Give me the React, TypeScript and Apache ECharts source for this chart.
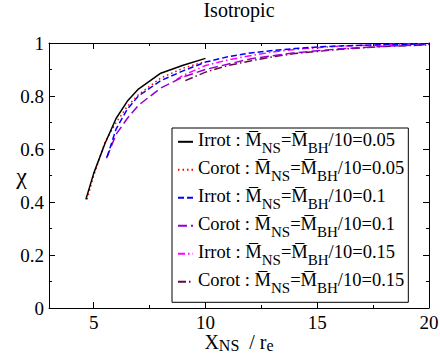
import React, { useEffect, useRef } from "react";
import * as echarts from "echarts";

const FONT = "Liberation Serif";

const seriesNames = ["Irrot 0.05", "Corot 0.05", "Irrot 0.1", "Corot 0.1", "Irrot 0.15", "Corot 0.15"];
const seriesTypes = ["Irrot", "Corot", "Irrot", "Corot", "Irrot", "Corot"];
const seriesMass = ["0.05", "0.05", "0.1", "0.1", "0.15", "0.15"];

const irrot005X = [4.65, 5, 5.5, 6, 6.5, 7, 8, 9, 10];
const irrot005Y = [0.41, 0.508, 0.62, 0.715, 0.78, 0.826, 0.886, 0.916, 0.942];

const corot005X = [4.7, 5, 5.5, 6, 6.5, 7, 8, 9, 10];
const corot005Y = [0.41, 0.5, 0.625, 0.7, 0.76, 0.805, 0.868, 0.905, 0.93];

const irrot01X = [5.6, 6, 6.5, 7, 8, 9, 10, 11, 12, 13, 14, 15, 16, 18, 20];
const irrot01Y = [0.57, 0.675, 0.75, 0.8, 0.858, 0.895, 0.928, 0.948, 0.962, 0.972, 0.979, 0.985, 0.989, 0.994, 0.997];

const corot01X = [5.57, 6, 6.5, 7, 8, 9, 10, 12, 14, 16, 18, 20];
const corot01Y = [0.565, 0.655, 0.715, 0.765, 0.83, 0.872, 0.9, 0.94, 0.963, 0.978, 0.988, 0.994];

const irrot015X = [8.7, 9, 10, 11, 12, 13, 14, 16, 18, 20];
const irrot015Y = [0.862, 0.878, 0.915, 0.936, 0.952, 0.966, 0.976, 0.988, 0.994, 0.998];

const corot015X = [9.1, 10, 11, 12, 13, 14, 16, 18, 20];
const corot015Y = [0.858, 0.89, 0.915, 0.932, 0.948, 0.96, 0.976, 0.987, 0.993];

const xMajorTicks = [5, 10, 15, 20];
const xMinorTicks = [7.5, 12.5, 17.5];

const allX = [irrot005X, corot005X, irrot01X, corot01X, irrot015X, corot015X];
const allY = [irrot005Y, corot005Y, irrot01Y, corot01Y, irrot015Y, corot015Y];

const colors = ["#000000", "#ff0000", "#0000ff", "#9400d3", "#ff00ff", "#670748"];
const dashes: any[] = ["solid", [1.5, 3], [6, 3], [9, 4], [7, 3, 1.5, 3], [8, 3, 1.5, 3]];

export default function App() {
  const ref = useRef<HTMLDivElement>(null);
  useEffect(() => {
    if (!ref.current) return;
    const chart = echarts.init(ref.current, null, { renderer: "svg" });
    const OL = "M\u0305";
    const series = seriesNames.map((n, i) => ({
      name: n,
      type: "line",
      xAxisIndex: 0,
      yAxisIndex: 0,
      showSymbol: false,
      symbol: "none",
      data: allX[i].map((x, j) => [x, allY[i][j]]),
      lineStyle: { color: colors[i], width: 1.5, type: dashes[i] },
      itemStyle: { color: colors[i] },
      z: 10 - i,
    }));
    const mkX = (pos: string, ticks: number[], len: number, showLine: boolean, showLabel: boolean, extra: any = {}) => ({
      type: "value",
      min: 3,
      max: 20,
      position: pos,
      gridIndex: 0,
      axisLine: { show: showLine, onZero: false, lineStyle: { color: "#000", width: 1 } },
      axisTick: { show: true, inside: true, length: len, customValues: ticks, lineStyle: { color: "#000" } },
      axisLabel: showLabel
        ? { show: true, customValues: ticks, fontFamily: FONT, fontSize: 19, lineHeight: 13, color: "#000", margin: 8 }
        : { show: false },
      splitLine: { show: false },
      ...extra,
    });
    const mkY = (pos: string, showLabel: boolean, extra: any = {}) => ({
      type: "value",
      min: 0,
      max: 1,
      interval: 0.2,
      position: pos,
      axisLine: { show: true, onZero: false, lineStyle: { color: "#000", width: 1 } },
      axisTick: { show: true, inside: true, length: 6, lineStyle: { color: "#000" } },
      minorTick: { show: true, splitNumber: 2, length: 3, lineStyle: { color: "#000" } },
      axisLabel: showLabel ? { show: true, fontFamily: FONT, fontSize: 19, color: "#000", margin: 5 } : { show: false },
      splitLine: { show: false },
      ...extra,
    });
    chart.setOption({
      animation: false,
      backgroundColor: "#fff",
      textStyle: { fontFamily: FONT },
      title: {
        text: "Isotropic",
        left: 239,
        textAlign: "center",
        top: 0,
        padding: 0,
        textStyle: { fontFamily: FONT, fontSize: 20, fontWeight: "normal", color: "#000" },
      },
      grid: { left: 49, right: 11, top: 43, bottom: 46, containLabel: false, outerBoundsMode: "none" },
      xAxis: [
        mkX("bottom", xMajorTicks, 6, true, true, {
          name: "{m|X}{s|NS}{m|  / r}{s|e}",
          nameLocation: "middle",
          nameGap: 24,
          nameMoveOverlap: false,
          nameTextStyle: {
            fontFamily: FONT,
            color: "#000",
            rich: {
              m: { fontFamily: FONT, fontSize: 20, color: "#000", verticalAlign: "top", lineHeight: 18 },
              s: { fontFamily: FONT, fontSize: 16, color: "#000", verticalAlign: "top", lineHeight: 18, padding: [5.5, 0, 0, 0] },
            },
          },
        }),
        mkX("bottom", xMinorTicks, 3, false, false),
        mkX("top", xMajorTicks, 6, true, false),
        mkX("top", xMinorTicks, 3, false, false),
      ],
      yAxis: [
        mkY("left", true, {
          name: "χ",
          nameLocation: "middle",
          nameRotate: 0,
          nameGap: 22,
          nameMoveOverlap: false,
          nameTextStyle: { fontFamily: FONT, fontSize: 24, color: "#000" },
        }),
        mkY("right", false),
      ],
      legend: {
        show: true,
        orient: "vertical",
        left: 172,
        top: 128,
        padding: [2.8, 4, 6.5, 5],
        itemGap: 3,
        itemWidth: 15,
        itemHeight: 14,
        borderColor: "#000",
        borderWidth: 1,
        backgroundColor: "#fff",
        itemStyle: { opacity: 0 },
        data: seriesNames,
        formatter: (name: string) => {
          const i = seriesNames.indexOf(name);
          return `{m|${seriesTypes[i]} : ${OL}}{s|NS}{m|=${OL}}{s|BH}{m|/10=${seriesMass[i]}}`;
        },
        textStyle: {
          fontFamily: FONT,
          fontSize: 18.5,
          color: "#000",
          rich: {
            m: { fontFamily: FONT, fontSize: 18.5, color: "#000", verticalAlign: "top", lineHeight: 22 },
            s: { fontFamily: FONT, fontSize: 15, color: "#000", verticalAlign: "top", lineHeight: 22, padding: [10, 0, 0, 0] },
          },
        },
      },
      series,
    });
    return () => chart.dispose();
  }, []);
  return <div ref={ref} style={{ width: 440, height: 354, position: "absolute", left: 0, top: 0 }} />;
}
